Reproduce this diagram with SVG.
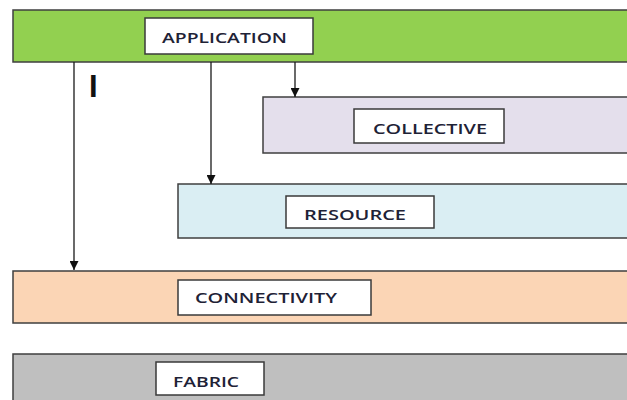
<svg xmlns="http://www.w3.org/2000/svg" width="627" height="400" viewBox="0 0 627 400">
  <style>
    .band { stroke: #3f3f3f; stroke-width: 1.5; }
    .label-box { fill: #ffffff; stroke: #3a3a3a; stroke-width: 1.5; }
    .label { font-family: "Open Sans", "Liberation Sans", Arial, sans-serif; font-size: 14.5px; font-weight: 600; fill: #1e2236; }
    .conn { stroke: #1a1a1a; stroke-width: 1.3; fill: none; marker-end: url(#arrow); }
  </style>
  <defs>
    <marker id="arrow" viewBox="0 0 10 10" refX="10" refY="5" markerWidth="9" markerHeight="9" markerUnits="userSpaceOnUse" orient="auto">
      <path d="M0,0 L10,5 L0,10 Z" fill="#111111"/>
    </marker>
  </defs>
  <rect width="627" height="400" fill="#ffffff"/>

  <g id="application">
    <rect class="band" x="13" y="10" width="626" height="52" fill="#92d050"/>
    <rect class="label-box" x="145" y="18" width="168" height="36"/>
    <text class="label" x="162" y="43" textLength="125" lengthAdjust="spacingAndGlyphs">APPLICATION</text>
  </g>

  <g id="collective">
    <rect class="band" x="263" y="97" width="376" height="56" fill="#e4dfec"/>
    <rect class="label-box" x="354" y="109" width="150" height="34"/>
    <text class="label" x="373" y="134" textLength="114" lengthAdjust="spacingAndGlyphs">COLLECTIVE</text>
  </g>

  <g id="resource">
    <rect class="band" x="178" y="184" width="461" height="54" fill="#daeef3"/>
    <rect class="label-box" x="286" y="196" width="148" height="32"/>
    <text class="label" x="304" y="220" textLength="102" lengthAdjust="spacingAndGlyphs">RESOURCE</text>
  </g>

  <g id="connectivity">
    <rect class="band" x="13" y="271" width="626" height="52" fill="#fbd5b5"/>
    <rect class="label-box" x="178" y="280" width="193" height="35"/>
    <text class="label" x="195" y="303" textLength="142" lengthAdjust="spacingAndGlyphs">CONNECTIVITY</text>
  </g>

  <g id="fabric">
    <rect class="band" x="13" y="354" width="626" height="60" fill="#bfbfbf"/>
    <rect class="label-box" x="156" y="362" width="108" height="33"/>
    <text class="label" x="173" y="387" textLength="66" lengthAdjust="spacingAndGlyphs">FABRIC</text>
  </g>

  <text x="89" y="97" font-family="Liberation Sans, Arial, sans-serif" font-weight="bold" font-size="31" fill="#111111">I</text>

  <g id="connectors">
    <line class="conn" x1="74" y1="62" x2="74" y2="270"/>
    <line class="conn" x1="211" y1="62" x2="211" y2="184"/>
    <line class="conn" x1="295" y1="62" x2="295" y2="97"/>
  </g>
</svg>
